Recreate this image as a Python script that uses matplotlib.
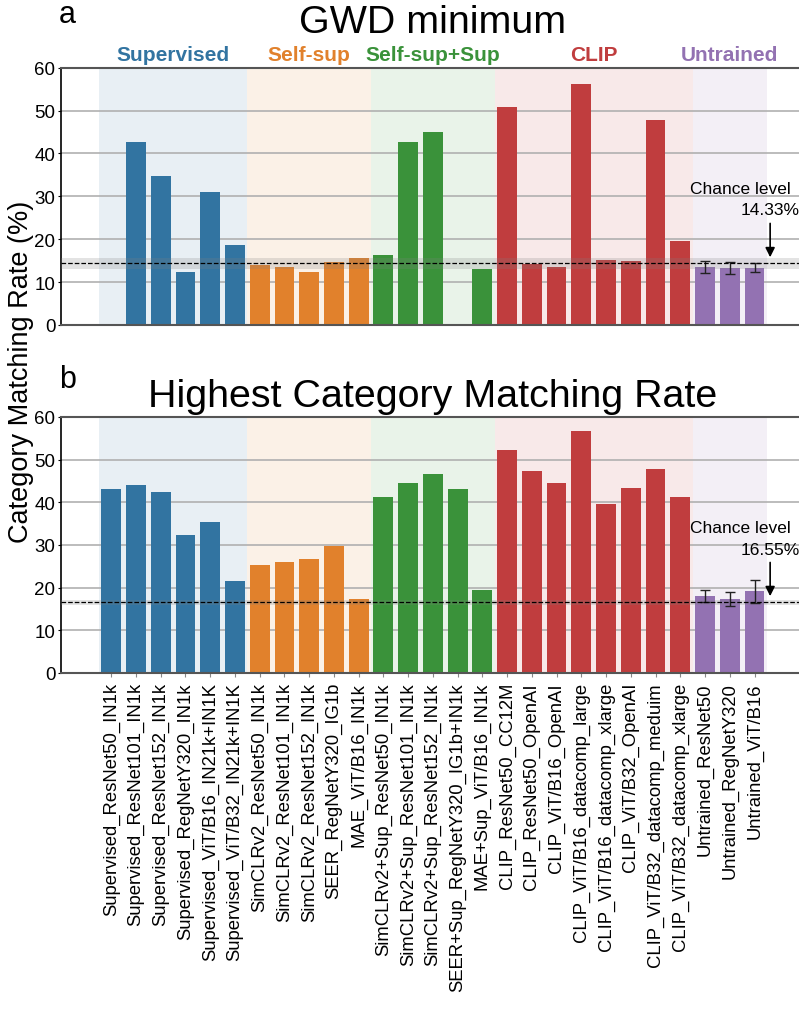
import matplotlib.pyplot as plt
import numpy as np

plt.rcParams['font.family'] = ['Liberation Sans', 'DejaVu Sans']

models = [
    "Supervised_ResNet50_IN1k", "Supervised_ResNet101_IN1k", "Supervised_ResNet152_IN1k",
    "Supervised_RegNetY320_IN1k", "Supervised_ViT/B16_IN21k+IN1K", "Supervised_ViT/B32_IN21k+IN1K",
    "SimCLRv2_ResNet50_IN1k", "SimCLRv2_ResNet101_IN1k", "SimCLRv2_ResNet152_IN1k",
    "SEER_RegNetY320_IG1b", "MAE_ViT/B16_IN1k",
    "SimCLRv2+Sup_ResNet50_IN1k", "SimCLRv2+Sup_ResNet101_IN1k", "SimCLRv2+Sup_ResNet152_IN1k",
    "SEER+Sup_RegNetY320_IG1b+IN1k", "MAE+Sup_ViT/B16_IN1k",
    "CLIP_ResNet50_CC12M", "CLIP_ResNet50_OpenAI", "CLIP_ViT/B16_OpenAI",
    "CLIP_ViT/B16_datacomp_large", "CLIP_ViT/B16_datacomp_xlarge", "CLIP_ViT/B32_OpenAI",
    "CLIP_ViT/B32_datacomp_meduim", "CLIP_ViT/B32_datacomp_xlarge",
    "Untrained_ResNet50", "Untrained_RegNetY320", "Untrained_ViT/B16",
]
groups = ["Supervised", "Self-sup", "Self-sup+Sup", "CLIP", "Untrained"]
group_sizes = [6, 5, 5, 8, 3]
group_colors = ["#3274a1", "#e1812c", "#3a923a", "#c03d3e", "#9372b2"]

# nan = no bar drawn in the reference
gwd_min = [np.nan, 42.7, 34.8, 12.4, 31.0, 18.7,
           14.0, 13.5, 12.4, 14.7, 15.6,
           16.3, 42.7, 45.1, np.nan, 13.1,
           50.9, 14.2, 13.5, 56.3, 15.2, 14.9, 47.9, 19.6,
           13.5, 13.3, 13.3]
gwd_err = [0] * 24 + [1.5, 1.4, 1.05]

highest = [43.0, 44.1, 42.5, 32.4, 35.5, 21.6,
           25.4, 25.9, 26.8, 29.8, 17.4,
           41.3, 44.6, 46.7, 43.0, 19.5,
           52.3, 47.4, 44.6, 56.8, 39.5, 43.4, 47.9, 41.3,
           18.1, 17.4, 19.1]
highest_err = [0] * 24 + [1.4, 1.6, 2.7]

chance_gwd, band_gwd = 14.33, 1.3
chance_high, band_high = 16.55, 0.5

bar_colors = []
for c, n in zip(group_colors, group_sizes):
    bar_colors += [c] * n
x = np.arange(len(models))

fig = plt.figure(figsize=(7.99, 10.12), dpi=100)
ax_a = fig.add_axes([0.0763, 0.678, 0.93, 0.254])
ax_b = fig.add_axes([0.0763, 0.334, 0.93, 0.253])


def draw_panel(ax, vals, errs, chance, band, title, show_groups):
    start = 0
    for g, n, c in zip(groups, group_sizes, group_colors):
        ax.axvspan(start - 0.5, start + n - 0.5, color=c, alpha=0.11, lw=0, zorder=0)
        if show_groups:
            ax.text(start + (n - 1) / 2, 61.0, g, color=c, fontsize=15, fontweight='bold',
                    ha='center', va='bottom')
        start += n
    ax.bar(x, vals, width=0.8, color=bar_colors, zorder=2)
    e = np.array(errs, dtype=float)
    m = e > 0
    ax.errorbar(x[m], np.array(vals)[m], yerr=e[m], fmt='none', ecolor='#222222',
                elinewidth=1, capsize=3.5, capthick=1, zorder=4)
    ax.axhspan(chance - band, chance + band, color='gray', alpha=0.22, lw=0, zorder=3)
    ax.axhline(chance, color='black', ls='--', lw=0.9, zorder=4)
    ax.annotate('', xy=(26.63, chance + 0.8), xytext=(26.63, chance + 10),
                arrowprops=dict(arrowstyle='-|>', color='black', lw=1.2, mutation_scale=14),
                zorder=5)
    ax.text(25.42, chance + 17.5, "Chance level", fontsize=12.5, ha='center', va='center')
    ax.text(27.82, chance + 12.5, f"{chance:.2f}%", fontsize=12.5, ha='right', va='center')

    ax.set_xlim(-2.03, 28)
    ax.set_ylim(0, 60)
    ax.set_yticks(range(0, 61, 10))
    ax.yaxis.grid(True, color='#b0b0b0', lw=1.2, zorder=1)
    ax.set_axisbelow(True)
    ax.tick_params(axis='y', labelsize=13.5, length=2.5, pad=1.5)
    for s in ['top', 'bottom']:
        ax.spines[s].set_color('#555555')
        ax.spines[s].set_linewidth(1.5)
    ax.spines['left'].set_linewidth(1.2)
    ax.spines['right'].set_visible(False)
    ax.set_title(title, fontsize=28.4, pad=26 if show_groups else 8)


draw_panel(ax_a, gwd_min, gwd_err, chance_gwd, band_gwd, "GWD minimum", True)
draw_panel(ax_b, highest, highest_err, chance_high, band_high,
           "Highest Category Matching Rate", False)

ax_a.set_xticks([])
ax_b.set_xticks(x)
ax_b.set_xticklabels(models, rotation=90, fontsize=13.3)
ax_b.tick_params(axis='x', length=3, color='#888888')

fig.text(0.074, 1 - 23 / 1012, "a", fontsize=22, ha='left', va='baseline')
fig.text(0.074, 1 - 388 / 1012, "b", fontsize=22, ha='left', va='baseline')
fig.text(0.026, 0.633, "Category Matching Rate (%)", rotation=90, fontsize=19.5,
         ha='center', va='center')

fig.savefig("out.png", dpi=100)
